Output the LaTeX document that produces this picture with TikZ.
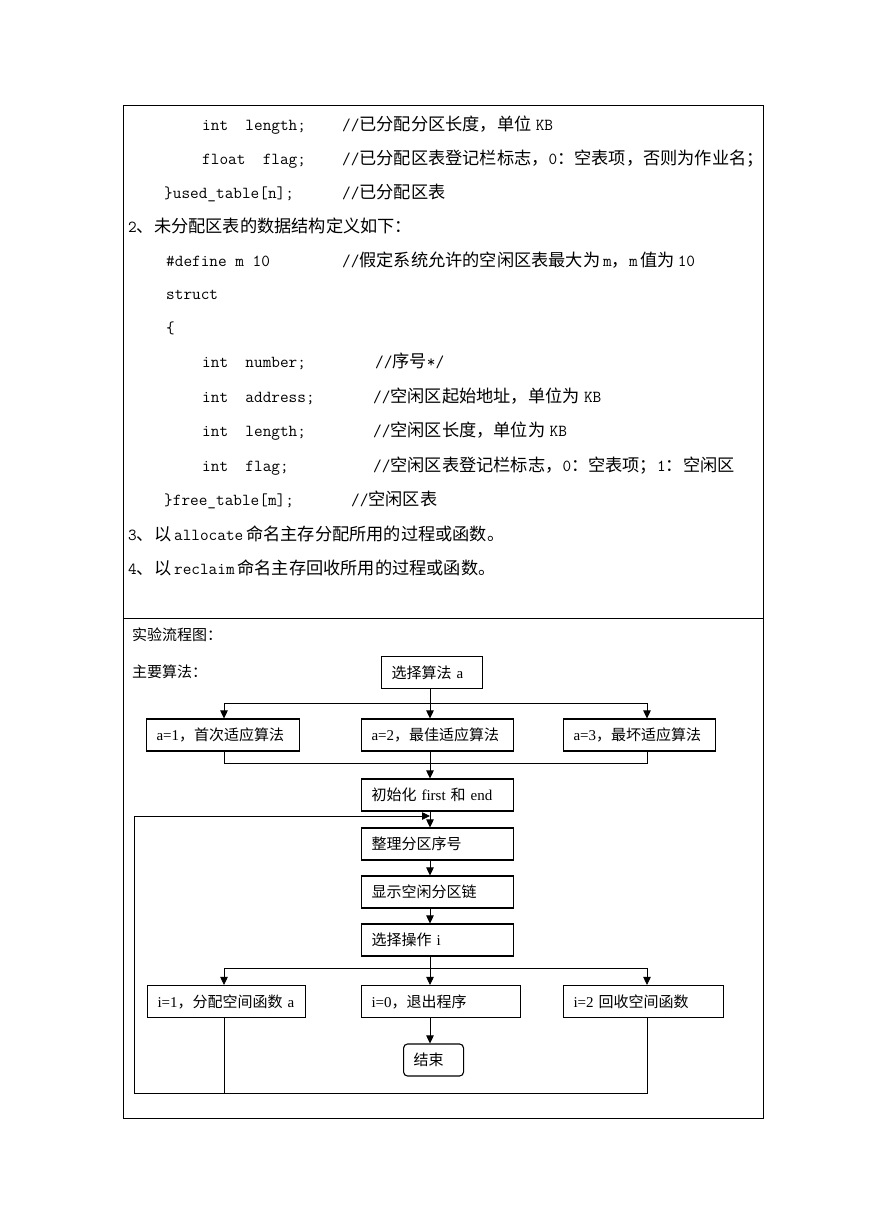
\documentclass[tikz,border=0pt]{standalone}
\usepackage{fontspec}
\setmainfont{Liberation Serif}
\newfontfamily\cjk{Noto Sans CJK SC}
\usetikzlibrary{arrows.meta}
\newcommand\zh[1]{{\cjk #1}}
\newcommand\cd[1]{{\fontsize{16.8pt}{20pt}\selectfont\ttfamily #1}}

\begin{document}
\begin{tikzpicture}[x=1pt, y=-1pt,
    frame/.style={line width=0.8pt},
    line/.style={line width=0.8pt},
    arrow/.style={line width=0.8pt, -{Triangle[length=8pt, width=7.5pt]}},
    txt/.style={anchor=base west, inner sep=0pt, font=\fontsize{17.2pt}{20pt}\selectfont},
    head/.style={anchor=west, inner sep=0pt, font=\fontsize{15pt}{18pt}\selectfont},
    box/.style={draw, line width=1.1pt, anchor=west, align=left, text width=#1, minimum height=32pt,
        inner xsep=10pt, inner ysep=0pt, font=\fontsize{15pt}{18pt}\selectfont},
    endbox/.style={box=#1, rounded corners=4pt}
]
\useasboundingbox (0,0) rectangle (869,1228);

% Table frame
\coordinate (tl) at (123,105);
\coordinate (br) at (763,1118);
\coordinate (ml) at (123,618);
\coordinate (mr) at (763,618);
\draw[frame] (tl) rectangle (br);
\draw[frame] (ml) -- (mr);

% Data structure text
\node[txt] (c1) at (202,130.5) {\cd{int~~length;}};
\node[txt] (m1) at (342,130.5) {\cd{//}\zh{已分配分区长度，单位} \cd{KB}};
\node[txt] (c2) at (202,164.5) {\cd{float~~flag;}};
\node[txt] (m2) at (342,164.5) {\cd{//}\zh{已分配区表登记栏标志，}\cd{0}\zh{：空表项，否则为作业名；}};
\node[txt] (c3) at (164,198) {\cd{\}used\_table[n];}};
\node[txt] (m3) at (342,198) {\cd{//}\zh{已分配区表}};
\node[txt] (p2) at (128,232.5) {\cd{2}\zh{、未分配区表的数据结构定义如下：}};
\node[txt] (c5) at (166,266.5) {\cd{\#define m 10}};
\node[txt] (m5) at (342,266.5) {\cd{//}\zh{假定系统允许的空闲区表最大为}\,\cd{m}\zh{，}\cd{m}\,\zh{值为}\,\cd{10}};
\node[txt] (c6) at (166,299.5) {\cd{struct}};
\node[txt] (c7) at (166,333) {\cd{\{}};
\node[txt] (c8) at (202,367.5) {\cd{int~~number;}};
\node[txt] (m8) at (375,367.5) {\cd{//}\zh{序号}\cd{*/}};
\node[txt] (c9) at (202,402.5) {\cd{int~~address;}};
\node[txt] (m9) at (373,402.5) {\cd{//}\zh{空闲区起始地址，单位为} \cd{KB}};
\node[txt] (c10) at (202,436.5) {\cd{int~~length;}};
\node[txt] (m10) at (373,436.5) {\cd{//}\zh{空闲区长度，单位为} \cd{KB}};
\node[txt] (c11) at (202,471) {\cd{int~~flag;}};
\node[txt] (m11) at (373,471) {\cd{//}\zh{空闲区表登记栏标志，}\cd{0}\zh{：空表项；}\cd{1}\zh{：空闲区}};
\node[txt] (c12) at (164,505.5) {\cd{\}free\_table[m];}};
\node[txt] (m12) at (351,505.5) {\cd{//}\zh{空闲区表}};
\node[txt] (p3) at (128,540) {\cd{3}\zh{、以}\,\cd{allocate}\,\zh{命名主存分配所用的过程或函数。}};
\node[txt] (p4) at (128,574.5) {\cd{4}\zh{、以}\,\cd{reclaim}\,\zh{命名主存回收所用的过程或函数。}};

% Flow chart
\node[head] (title) at (132,635) {\zh{实验流程图：}};
\node[head] (sub) at (132,672) {\zh{主要算法：}};

\node[box=81pt] (algo) at (381,672.5) {\zh{选择算法} a};
\node[box=133pt] (a1) at (146,735) {a=1\zh{，首次适应算法}};
\node[box=132pt] (a2) at (361,735) {a=2\zh{，最佳适应算法}};
\node[box=132pt] (a3) at (563,735) {a=3\zh{，最坏适应算法}};
\node[box=132pt] (init) at (361,795) {\zh{初始化} first \zh{和} end};
\node[box=132pt] (sort) at (361,844) {\zh{整理分区序号}};
\node[box=132pt] (show) at (361,892) {\zh{显示空闲分区链}};
\node[box=132pt] (op) at (361,940) {\zh{选择操作} i};
\node[box=138pt] (i1) at (147,1001.5) {i=1\zh{，分配空间函数} a};
\node[box=139pt] (i0) at (361,1001.5) {i=0\zh{，退出程序}};
\node[box=140pt] (i2) at (563,1001.5) {i=2 \zh{回收空间函数}};
\node[endbox=40pt] (stop) at (403,1060) {\zh{结束}};

% Connector columns and joints
\coordinate (cl) at (224,0);
\coordinate (cm) at (430,0);
\coordinate (cr) at (647,0);
\coordinate (fa) at (430,703);
\coordinate (ja) at (430,763);
\coordinate (back) at (430,816);
\coordinate (fi) at (430,968);
\coordinate (loop) at (134,1093);

% Arrows
\draw[line] (cm |- algo.south) -- (fa);
\draw[arrow] (fa) -- (cm |- a2.north);
\draw[arrow] (fa) -| (cl |- a1.north);
\draw[arrow] (fa) -| (cr |- a3.north);
\draw[line] (cl |- a1.south) |- (ja);
\draw[line] (cr |- a3.south) |- (ja);
\draw[arrow] (cm |- a2.south) -- (cm |- init.north);
\draw[arrow] (cm |- init.south) -- (cm |- sort.north);
\draw[arrow] (cm |- sort.south) -- (cm |- show.north);
\draw[arrow] (cm |- show.south) -- (cm |- op.north);
\draw[line] (cm |- op.south) -- (fi);
\draw[arrow] (fi) -- (cm |- i0.north);
\draw[arrow] (fi) -| (cl |- i1.north);
\draw[arrow] (fi) -| (cr |- i2.north);
\draw[arrow] (cm |- i0.south) -- (cm |- stop.north);
\draw[line] (cl |- i1.south) -- (cl |- loop);
\draw[arrow] (cr |- i2.south) |- (loop) |- (back);
\end{tikzpicture}
\end{document}
